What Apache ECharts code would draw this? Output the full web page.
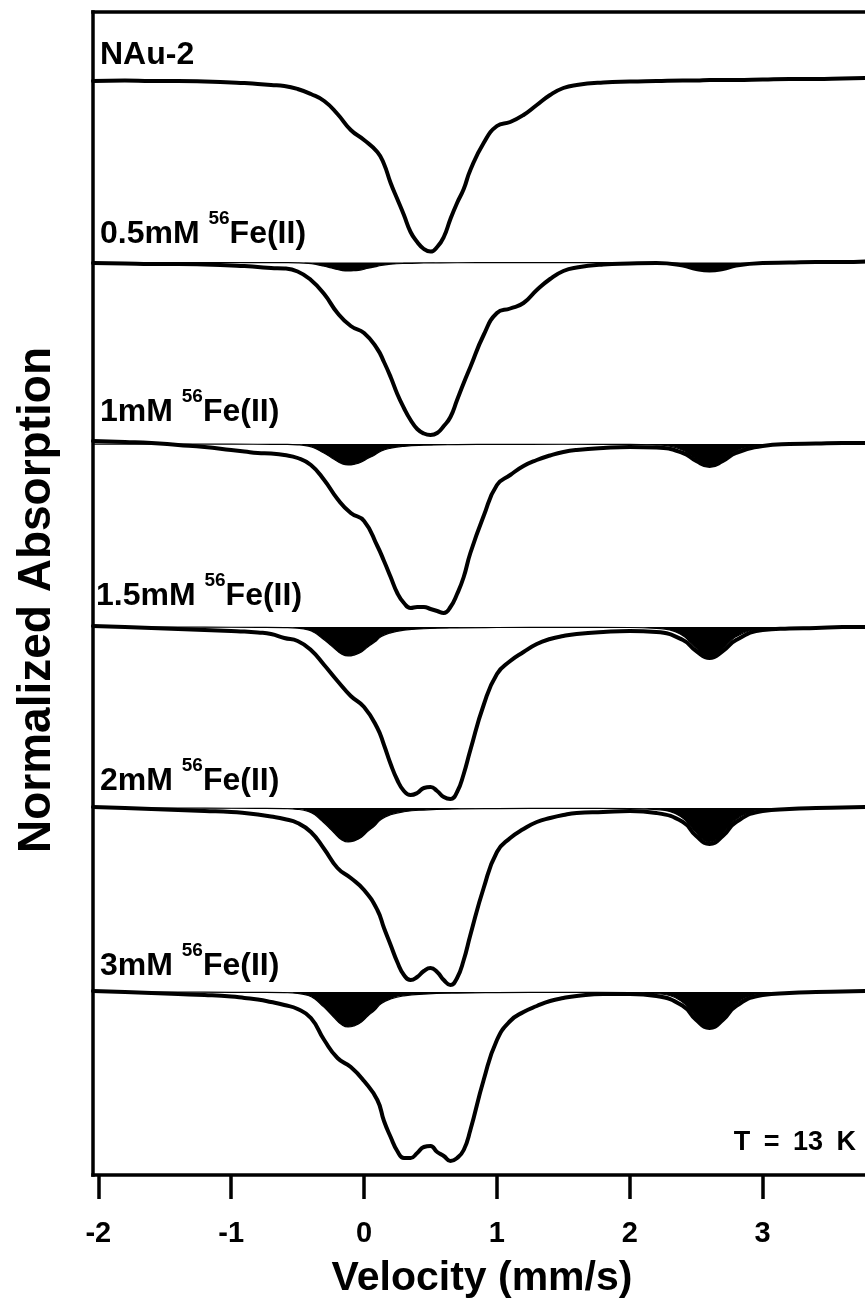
<!DOCTYPE html>
<html>
<head>
<meta charset="utf-8">
<script src="https://cdn.jsdelivr.net/npm/echarts@6/dist/echarts.min.js"></script>
<style>
html,body{margin:0;padding:0;background:#fff;}
#chart{width:865px;height:1305px;}
</style>
</head>
<body>
<div id="chart"></div>
<script>
// Velocity grid (mm/s) for the measured spectra
const VELOCITY = [-2.04,-1.8,-1.6,-1.4,-1.2,-1.0,-0.9,-0.8,-0.7,-0.6,-0.5,-0.4,-0.3,-0.2,-0.1,0.0,0.1,0.15,0.2,0.25,0.3,0.35,0.4,0.45,0.5,0.55,0.6,0.65,0.7,0.75,0.8,0.9,1.0,1.1,1.2,1.3,1.4,1.5,1.6,1.8,2.0,2.2,2.4,2.5,2.6,2.7,2.8,3.0,3.2,3.4,3.6,3.77];

// Relative absorption of each spectrum (0 = its own baseline)
const NAU2  = [0,0.25,0,0,-0.25,-0.75,-1,-1.5,-2,-2.5,-4,-6.5,-10,-16.5,-24.5,-29.5,-35.5,-41.5,-51,-59,-67,-75.5,-80.5,-84,-85.3,-83,-78,-69,-61,-54,-44.5,-31,-22.5,-20.5,-17,-12,-7,-3.5,-2,-0.75,-0.25,0,0.25,0.25,0.5,0.5,0.5,0.75,1,1,1.25,1.5];
const FE_05 = [-0.25,-0.5,-0.75,-0.75,-1,-1.5,-1.75,-2.25,-2.75,-3,-4.5,-8.75,-15.75,-25.25,-31.75,-35.25,-43.25,-49.75,-57.25,-65.75,-72.75,-78.75,-83.25,-85.5,-86.25,-85.25,-81.75,-77.25,-68.75,-60.25,-52.25,-36.25,-25.25,-23,-20.25,-13.75,-8.25,-4.25,-2.5,-1,-0.5,-0.25,-1.5,-3.25,-4,-3.25,-1.5,-0.25,0,0.25,0.25,0.5];
const FE_1  = [1.5,1,0.5,-0.5,-1.5,-3,-3.75,-4.5,-4.75,-5.5,-7,-10.5,-18,-27.5,-34.5,-38.5,-51,-58.5,-66.5,-74.5,-79.5,-82,-81.5,-81.5,-82.5,-83.5,-84.5,-81.5,-75,-66.5,-54.5,-36,-20.5,-15.5,-11,-8,-5.75,-4,-3,-2,-1.5,-1.75,-4.5,-8.5,-11,-8.5,-4.5,-1,0,0.25,0.5,0.5];
const FE_15 = [0.5,0,-0.5,-1,-1.5,-2,-2.25,-2.75,-3.5,-5.5,-7,-11.5,-19,-27,-34.5,-40,-50.5,-59,-68.5,-76.5,-82,-84,-83,-80.5,-80,-82,-85,-86,-82.5,-73.5,-61.5,-39,-23.5,-17,-12.5,-8.5,-6,-4.5,-3.5,-2.5,-2,-2.5,-6.5,-12,-15.5,-12,-6.5,-1.5,-0.75,-0.5,0,0];
const FE_2  = [0.5,0,-0.5,-1,-1.5,-2,-2.5,-3.25,-4.25,-5.5,-7.5,-12,-20.5,-30,-35,-41,-51,-60,-68.5,-77,-83.5,-86,-84.5,-81.5,-80,-82,-86,-88.5,-85,-76,-63.5,-40,-22,-15,-10.5,-7,-5,-3.5,-2.5,-2,-1.5,-2.5,-7,-14,-18,-14,-7,-1.5,-0.5,0,0.25,0.5];
const FE_3  = [0.5,0,-0.5,-1,-1.5,-2.25,-3,-3.75,-5,-6.5,-8.5,-13,-24,-33,-37.5,-44.5,-54,-64.5,-72.5,-79.5,-83,-83,-80.5,-77.5,-77,-80,-82,-84.5,-83,-79,-69,-44,-24,-14.5,-10,-7,-4.5,-3,-2,-1,-1,-2,-7,-14,-18,-14,-7,-1.5,-0.5,0,0.25,0.5];

// Velocity grid for the fitted Fe(II) doublet components
const COMP_VELOCITY = [-2.04,-1.2,-0.8,-0.6,-0.5,-0.42,-0.37,-0.32,-0.27,-0.22,-0.17,-0.12,-0.07,-0.02,0.03,0.08,0.13,0.2,0.3,0.45,0.7,1.0,1.5,2.0,2.2,2.3,2.4,2.45,2.5,2.55,2.6,2.65,2.7,2.75,2.8,2.9,3.0,3.2,3.5,3.77];
const COMP_05 = [-0.01,-0.03,-0.05,-0.09,-0.17,-0.43,-0.85,-1.57,-2.34,-3.19,-3.95,-4.25,-4.08,-3.66,-2.89,-2.21,-1.4,-0.85,-0.47,-0.26,-0.13,-0.08,-0.05,-0.08,-0.21,-0.43,-1.28,-2.13,-3.06,-3.91,-4.25,-3.95,-3.15,-2.21,-1.4,-0.55,-0.26,-0.11,-0.04,-0.03];
const COMP_1  = [-0.03,-0.06,-0.13,-0.21,-0.42,-1.05,-2.1,-3.89,-5.78,-7.88,-9.77,-10.5,-10.08,-9.03,-7.14,-5.46,-3.47,-2.1,-1.16,-0.63,-0.32,-0.19,-0.13,-0.19,-0.53,-1.05,-3.15,-5.25,-7.56,-9.66,-10.5,-9.77,-7.77,-5.46,-3.47,-1.37,-0.63,-0.26,-0.11,-0.06];
const COMP_15 = [-0.04,-0.09,-0.17,-0.29,-0.58,-1.45,-2.9,-5.37,-7.98,-10.88,-13.49,-14.5,-13.92,-12.47,-9.86,-7.54,-4.79,-2.9,-1.6,-0.87,-0.44,-0.26,-0.17,-0.26,-0.73,-1.45,-4.35,-7.25,-10.44,-13.34,-14.5,-13.49,-10.73,-7.54,-4.79,-1.89,-0.87,-0.36,-0.15,-0.09];
const COMP_2  = [-0.05,-0.1,-0.2,-0.34,-0.68,-1.7,-3.4,-6.29,-9.35,-12.75,-15.81,-17,-16.32,-14.62,-11.56,-8.84,-5.61,-3.4,-1.87,-1.02,-0.51,-0.31,-0.2,-0.31,-0.85,-1.7,-5.1,-8.5,-12.24,-15.64,-17,-15.81,-12.58,-8.84,-5.61,-2.21,-1.02,-0.43,-0.17,-0.1];
const COMP_3  = [-0.05,-0.11,-0.21,-0.35,-0.7,-1.75,-3.5,-6.48,-9.63,-13.13,-16.28,-17.5,-16.8,-15.05,-11.9,-9.1,-5.78,-3.5,-1.93,-1.05,-0.53,-0.32,-0.21,-0.32,-0.88,-1.75,-5.25,-8.75,-12.6,-16.1,-17.5,-16.28,-12.95,-9.1,-5.78,-2.28,-1.05,-0.44,-0.18,-0.11];

// Vertical stacking offsets of the spectra
const OFFSETS = [0, -90.75, -181.5, -273, -363.5, -455.5];
const X_TICKS = [-2, -1, 0, 1, 2, 3];
const SAMPLE_LABELS = ['NAu-2', '0.5mM', '1mM', '1.5mM', '2mM', '3mM'];
const ISOTOPE = '56';
const SPECIES = 'Fe(II)';
const X_TITLE = 'Velocity (mm/s)';
const Y_TITLE = 'Normalized Absorption';
const TEMP_LABEL = 'T\u2002=\u200213\u2002K';

const SPECTRA = [NAU2, FE_05, FE_1, FE_15, FE_2, FE_3];
const COMPONENTS = [null, COMP_05, COMP_1, COMP_15, COMP_2, COMP_3];

const FONT = '"Liberation Sans", Arial, sans-serif';
const chart = echarts.init(document.getElementById('chart'), null, {renderer: 'canvas'});

const series = [];
SPECTRA.forEach(function (vals, k) {
  const comp = COMPONENTS[k];
  if (comp) {
    series.push({
      type: 'line',
      data: COMP_VELOCITY.map(function (v, i) { return [v, OFFSETS[k] + comp[i]]; }),
      showSymbol: false, symbol: 'none', smooth: 0.5,
      lineStyle: {color: '#000', width: 1.2},
      areaStyle: {color: '#000', opacity: 1, origin: OFFSETS[k]},
      silent: true, z: 2
    });
  }
  series.push({
    type: 'line',
    data: VELOCITY.map(function (v, i) { return [v, OFFSETS[k] + vals[i]]; }),
    showSymbol: false, symbol: 'none', smooth: 0.5,
    lineStyle: {color: '#000', width: 4, join: 'round', cap: 'round'},
    silent: true, z: 3
  });
});

// label baselines (px) for positioning text
const LABEL_POS = [[100, 66], [100, 245], [100, 423], [96, 607], [100, 792], [100, 977]];
const graphics = [];
SAMPLE_LABELS.forEach(function (name, k) {
  const text = k === 0 ? '{a|' + name + '}' : '{a|' + name + ' }{s|' + ISOTOPE + '}{a|' + SPECIES + '}';
  graphics.push({
    type: 'text', x: LABEL_POS[k][0], y: LABEL_POS[k][1] - 36.1, z: 10,
    style: {
      text: text, fill: '#000', align: 'left', textAlign: 'left',
      verticalAlign: 'top', textVerticalAlign: 'top',
      rich: {
        a: {fontSize: 32, fontWeight: 'bold', fontFamily: FONT, lineHeight: 50, fill: '#000', color: '#000'},
        s: {fontSize: 19, fontWeight: 'bold', fontFamily: FONT, lineHeight: 21, verticalAlign: 'top', fill: '#000', color: '#000'}
      }
    }
  });
});
graphics.push({
  type: 'text', x: 482, y: 1293 - 0.3465 * 41, z: 10,
  style: {text: X_TITLE, fill: '#000', font: 'bold 41px ' + FONT, align: 'center', textAlign: 'center', verticalAlign: 'middle', textVerticalAlign: 'middle'}
});
graphics.push({
  type: 'text', x: 37, y: 600, rotation: Math.PI / 2, z: 10,
  style: {text: Y_TITLE, fill: '#000', font: 'bold 46px ' + FONT, align: 'center', textAlign: 'center', verticalAlign: 'middle', textVerticalAlign: 'middle'}
});
graphics.push({
  type: 'text', x: 856, y: 1152 - 0.3465 * 27, z: 10,
  style: {text: TEMP_LABEL, fill: '#000', font: 'bold 27px ' + FONT, align: 'right', textAlign: 'right', verticalAlign: 'middle', textVerticalAlign: 'middle'}
});

chart.setOption({
  animation: false,
  backgroundColor: '#fff',
  grid: {left: 93, right: 0, top: 12, bottom: 130, containLabel: false},
  xAxis: [{
    type: 'value', min: -2.04, max: 3.77, position: 'bottom',
    axisLine: {show: true, onZero: false, lineStyle: {color: '#000', width: 3.5, cap: 'square'}},
    axisTick: {show: true, customValues: X_TICKS, length: 24, lineStyle: {color: '#000', width: 3.5}},
    axisLabel: {show: true, customValues: X_TICKS, margin: 44, color: '#000', fontSize: 29, fontWeight: 'bold', fontFamily: FONT},
    splitLine: {show: false}
  }, {
    type: 'value', min: -2.04, max: 3.77, position: 'top',
    axisLine: {show: true, onZero: false, lineStyle: {color: '#000', width: 3.5, cap: 'square'}},
    axisTick: {show: false}, axisLabel: {show: false}, splitLine: {show: false}
  }],
  yAxis: {
    type: 'value', min: -547, max: 34.5,
    axisLine: {show: true, onZero: false, lineStyle: {color: '#000', width: 3.5, cap: 'square'}},
    axisTick: {show: false}, axisLabel: {show: false}, splitLine: {show: false}
  },
  series: series,
  graphic: graphics
});
</script>
</body>
</html>
